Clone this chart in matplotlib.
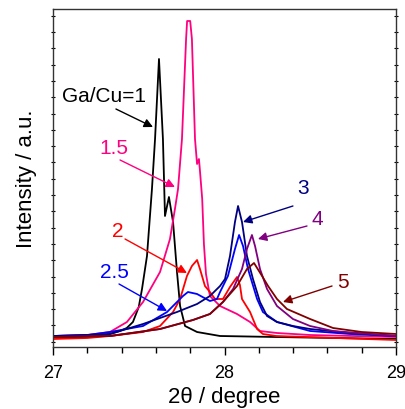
import numpy as np
import matplotlib
matplotlib.use('Agg')
import matplotlib.pyplot as plt
from matplotlib.ticker import MultipleLocator, FixedLocator

plt.rcParams['font.family'] = ['Liberation Sans', 'DejaVu Sans']

# 2theta (degree) / intensity (a.u.)
ga1_x = [27.00, 27.20, 27.33, 27.39, 27.43, 27.466, 27.50, 27.519, 27.548, 27.577, 27.595, 27.618, 27.641,
         27.653, 27.676, 27.70, 27.723, 27.741, 27.77, 27.84, 27.974, 28.3, 29.0]
ga1_y = [10, 10, 13, 16, 19, 25, 40, 58, 91, 158, 208, 288, 208,
         131, 150, 125, 75, 41, 21, 15, 11, 10, 8]

ga15_x = [27.00, 27.20, 27.332, 27.431, 27.525, 27.624, 27.682, 27.711, 27.729, 27.752, 27.776, 27.782,
          27.80, 27.81, 27.828, 27.84, 27.851, 27.857, 27.87, 27.88, 27.892, 27.915, 27.974, 28.073,
          28.149, 28.207, 28.306, 28.5, 29.0]
ga15_y = [11, 12, 15, 25, 45, 75, 108, 138, 158, 208, 308, 326,
          326, 308, 208, 183, 188, 176, 148, 103, 73, 51, 41, 33,
          25, 16, 14, 12, 10]

ga2_x = [27.00, 27.20, 27.332, 27.525, 27.624, 27.70, 27.741, 27.781, 27.81, 27.84, 27.857, 27.886,
         27.915, 27.945, 27.991, 28.032, 28.073, 28.09, 28.102, 28.12, 28.149, 28.19, 28.224, 28.3, 29.0]
ga2_y = [8, 9, 11, 15, 21, 35, 48, 71, 81, 87, 78, 61,
         55, 48, 48, 60, 70, 62, 48, 43, 35, 18, 13, 11, 7]

ga25_x = [27.00, 27.20, 27.332, 27.525, 27.665, 27.723, 27.758, 27.787, 27.84, 27.915, 27.956, 27.974,
          28.02, 28.061, 28.085, 28.108, 28.137, 28.19, 28.224, 28.306, 28.499, 28.732, 29.0]
ga25_y = [11, 12, 15, 21, 35, 45, 51, 55, 53, 46, 48, 55,
          71, 98, 112, 101, 78, 48, 35, 25, 16, 13, 11]

ga3_x = [27.00, 27.20, 27.332, 27.525, 27.723, 27.84, 27.915, 27.974, 28.003, 28.032, 28.061, 28.079,
         28.102, 28.131, 28.166, 28.207, 28.248, 28.306, 28.399, 28.499, 28.732, 29.0]
ga3_y = [11, 12, 13, 23, 35, 43, 51, 61, 68, 91, 125, 141,
         125, 91, 68, 45, 31, 25, 21, 18, 14, 11]

ga4_x = [27.00, 27.332, 27.624, 27.816, 27.915, 27.991, 28.05, 28.102, 28.131, 28.16, 28.178, 28.207,
         28.248, 28.306, 28.399, 28.499, 28.633, 29.0]
ga4_y = [10, 11, 18, 27, 33, 45, 58, 78, 98, 112, 101, 78,
         58, 41, 28, 21, 16, 11]

ga5_x = [27.00, 27.332, 27.624, 27.816, 27.915, 27.991, 28.073, 28.131, 28.172, 28.219, 28.254, 28.306,
         28.364, 28.499, 28.633, 28.8, 29.0]
ga5_y = [10, 11, 18, 27, 33, 45, 61, 78, 84, 71, 61, 48,
         38, 28, 19, 15, 13]

series = [
    (ga1_x, ga1_y, 'black'),
    (ga15_x, ga15_y, '#ff0080'),
    (ga2_x, ga2_y, '#ff0000'),
    (ga25_x, ga25_y, '#0000ff'),
    (ga3_x, ga3_y, '#000080'),
    (ga4_x, ga4_y, '#800080'),
    (ga5_x, ga5_y, '#800000'),
]

# label, text position, arrow tail, arrow head
labels = ['Ga/Cu=1', '1.5', '2', '2.5', '3', '4', '5']
label_xy = [(27.30, 251), (27.356, 200), (27.379, 116), (27.356, 76), (28.458, 159), (28.54, 128), (28.69, 65)]
arrow_from = [(27.367, 238), (27.391, 187), (27.42, 108), (27.385, 63), (28.399, 141), (28.481, 121), (28.627, 61)]
arrow_to = [(27.583, 220), (27.711, 160), (27.781, 74), (27.665, 36), (28.108, 125), (28.195, 108), (28.341, 45)]

fig = plt.figure(figsize=(4.06, 4.10), dpi=100)
ax = fig.add_axes([53 / 406, 62 / 410, 343 / 406, 338 / 410])

for x, y, c in series:
    ax.plot(x, y, color=c, lw=1.3)

for i, lab in enumerate(labels):
    c = series[i][2]
    ax.text(label_xy[i][0], label_xy[i][1], lab, color=c, fontsize=15, ha='center', va='center')
    ax.annotate('', xy=arrow_to[i], xytext=arrow_from[i],
                arrowprops=dict(arrowstyle='-|>', color=c, lw=1.0, mutation_scale=13, shrinkA=0, shrinkB=0))

ax.set_xlim(27, 29)
ax.set_ylim(0, 338)
ax.xaxis.set_major_locator(MultipleLocator(1))
ax.xaxis.set_minor_locator(MultipleLocator(0.2))
ax.yaxis.set_major_locator(FixedLocator([]))
ax.yaxis.set_minor_locator(FixedLocator(np.arange(5.3, 338, 16.3)))
ax.tick_params(axis='x', which='major', direction='out', length=6, width=1, labelsize=13, pad=6, top=False)
ax.tick_params(axis='x', which='minor', direction='out', length=4, width=1, top=False)
ax.tick_params(axis='y', which='minor', direction='inout', length=2.5, width=0.8, left=True, right=True)
ax.tick_params(axis='y', which='major', left=False, labelleft=False)

for s in ax.spines.values():
    s.set_color('#333333')
    s.set_linewidth(1.0)

ax.set_xlabel('2θ / degree', fontsize=16, labelpad=4)
ax.set_ylabel('Intensity / a.u.', fontsize=16, labelpad=7)

fig.savefig('out.png', dpi=100)
